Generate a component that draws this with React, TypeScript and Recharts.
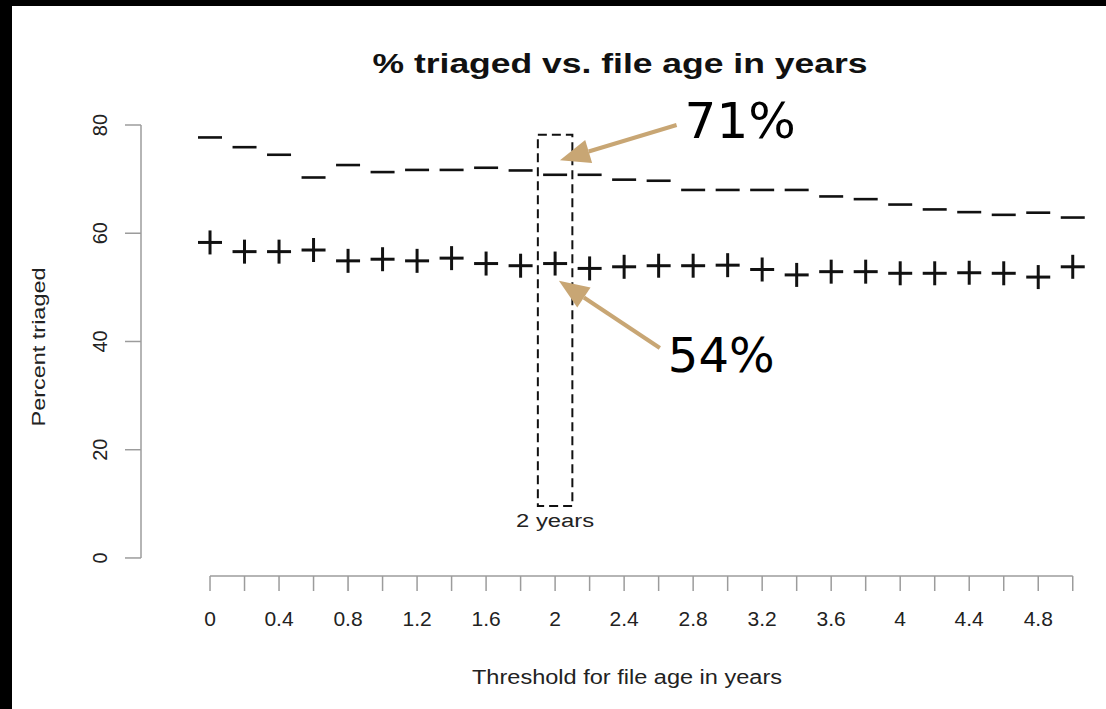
import React from 'react';
import { ComposedChart, Scatter, XAxis, YAxis, ReferenceArea, ReferenceLine } from 'recharts';

// threshold (years) on the x axis, one mark per threshold
const THRESHOLDS = [0, 0.2, 0.4, 0.6, 0.8, 1, 1.2, 1.4, 1.6, 1.8, 2, 2.2, 2.4, 2.6, 2.8, 3, 3.2, 3.4, 3.6, 3.8, 4, 4.2, 4.4, 4.6, 4.8, 5];
// "-" marks
const DASH_VALUES = [77.7, 75.9, 74.5, 70.3, 72.6, 71.3, 71.7, 71.7, 72.1, 71.6, 70.8, 70.8, 69.9, 69.7, 68.0, 68.0, 68.0, 68.0, 66.8, 66.3, 65.3, 64.4, 63.9, 63.4, 63.8, 62.9];
// "+" marks
const PLUS_VALUES = [58.3, 56.6, 56.6, 56.9, 54.9, 55.2, 54.9, 55.4, 54.4, 54.0, 54.4, 53.5, 53.8, 54.0, 54.0, 54.1, 53.3, 52.3, 52.9, 52.9, 52.6, 52.6, 52.7, 52.6, 51.9, 53.8];

const X_TICK_LABELS = ['0', '', '0.4', '', '0.8', '', '1.2', '', '1.6', '', '2', '', '2.4', '', '2.8', '', '3.2', '', '3.6', '', '4', '', '4.4', '', '4.8', ''];
const Y_TICKS = [0, 20, 40, 60, 80];

const X_MIN = -0.4;
const X_MAX = 5.1;
const Y_MIN = -10 / 3;
const Y_MAX = 80;

const AXIS_GRAY = '#9c9c9c';
const INK = '#111';
const TAN = '#c8a674';
const FONT = '"Liberation Sans", Arial, Helvetica, sans-serif';

const dashData = THRESHOLDS.map((t, i) => ({ x: t, y: DASH_VALUES[i] }));
const plusData = THRESHOLDS.map((t, i) => ({ x: t, y: PLUS_VALUES[i] }));

const DashMark = (props: any) => {
  const { cx, cy } = props;
  return <line x1={cx - 12} x2={cx + 12} y1={cy} y2={cy} stroke={INK} strokeWidth={2.6} />;
};

const PlusMark = (props: any) => {
  const { cx, cy } = props;
  return (
    <g stroke={INK} strokeWidth={3}>
      <line x1={cx - 12} x2={cx + 12} y1={cy} y2={cy} />
      <line x1={cx} x2={cx} y1={cy - 12} y2={cy + 12} />
    </g>
  );
};

const XTick = (props: any) => {
  const { x, y, index } = props;
  const label = X_TICK_LABELS[index];
  if (!label) return null;
  return (
    <text x={x} y={y + 33} textAnchor="middle" fontSize={21} fill="#222" fontFamily={FONT}>
      {label}
    </text>
  );
};

const YTick = (props: any) => {
  const { x, y, payload } = props;
  const bx = x - 16;
  return (
    <text x={bx} y={y} transform={`rotate(-90, ${bx}, ${y})`} textAnchor="middle" fontSize={20} fill="#222" fontFamily={FONT}>
      {payload.value}
    </text>
  );
};

// arrow from segment[0] (tail, with the callout text) to segment[1] (head)
const makeArrow = (text: string, dx: number, dy: number, fontSize: number) => (props: any) => {
  const { x1, y1, x2, y2 } = props;
  const ang = Math.atan2(y2 - y1, x2 - x1);
  const len = 30;
  const half = 12;
  const bx = x2 - len * Math.cos(ang);
  const by = y2 - len * Math.sin(ang);
  const px = -Math.sin(ang) * half;
  const py = Math.cos(ang) * half;
  return (
    <g>
      <line x1={x1} y1={y1} x2={bx} y2={by} stroke={TAN} strokeWidth={4} />
      <polygon points={`${x2},${y2} ${bx + px},${by + py} ${bx - px},${by - py}`} fill={TAN} />
      <text x={x1 + dx} y={y1 + dy} fontSize={fontSize} fill="#000" fontFamily='"DejaVu Sans", sans-serif'>
        {text}
      </text>
    </g>
  );
};

const yearsLabel = (props: any) => {
  const { x, y, width, height } = props.viewBox;
  return (
    <text x={x + width / 2} y={y + height + 21} textAnchor="middle" fontSize={18} fill="#222" fontFamily={FONT} textLength={78} lengthAdjust="spacingAndGlyphs">
      2 years
    </text>
  );
};

export default function App() {
  return (
    <div style={{ position: 'fixed', left: 0, top: 0, width: 1106, height: 709, background: '#000' }}>
      <div style={{ position: 'absolute', left: 12, top: 6, right: 0, bottom: 0, background: '#fff' }} />
      <div style={{ position: 'absolute', left: 0, top: 0 }}>
        <ComposedChart width={1106} height={709} margin={{ top: 125, right: 16, bottom: 93, left: 81 }}>
          <XAxis
            type="number"
            dataKey="x"
            domain={[X_MIN, X_MAX]}
            ticks={THRESHOLDS}
            interval={0}
            allowDataOverflow
            height={40}
            axisLine={false}
            tickSize={15}
            tickLine={{ stroke: AXIS_GRAY, strokeWidth: 1.5 }}
            tick={<XTick />}
          />
          <YAxis
            type="number"
            dataKey="y"
            domain={[Y_MIN, Y_MAX]}
            ticks={Y_TICKS}
            interval={0}
            allowDataOverflow
            width={60}
            axisLine={false}
            tickSize={16}
            tickLine={{ stroke: AXIS_GRAY, strokeWidth: 1.5 }}
            tick={<YTick />}
          />
          {/* R-style axis lines that only span the tick range */}
          <ReferenceLine segment={[{ x: 0, y: Y_MIN }, { x: 5, y: Y_MIN }]} stroke={AXIS_GRAY} strokeWidth={1.5} ifOverflow="visible" />
          <ReferenceLine segment={[{ x: X_MIN, y: 0 }, { x: X_MIN, y: 80 }]} stroke={AXIS_GRAY} strokeWidth={1.5} ifOverflow="visible" />
          <ReferenceArea
            x1={1.9}
            x2={2.1}
            y1={9.6}
            y2={78.2}
            fill="none"
            fillOpacity={0}
            stroke={INK}
            strokeWidth={2}
            strokeDasharray="9 5"
            ifOverflow="visible"
            label={yearsLabel}
          />
          <Scatter data={dashData} shape={DashMark} isAnimationActive={false} />
          <Scatter data={plusData} shape={PlusMark} isAnimationActive={false} />
          <ReferenceLine
            segment={[{ x: 2.704, y: 80.0 }, { x: 2.028, y: 73.5 }]}
            ifOverflow="visible"
            shape={makeArrow('71%', 8, 13, 50)}
          />
          <ReferenceLine
            segment={[{ x: 2.607, y: 38.8 }, { x: 2.022, y: 51.2 }]}
            ifOverflow="visible"
            shape={makeArrow('54%', 8, 24, 48)}
          />
        </ComposedChart>
      </div>
      <svg width={1106} height={709} style={{ position: 'absolute', left: 0, top: 0, pointerEvents: 'none' }}>
        <text x={620} y={73} textAnchor="middle" fontSize={27} fontWeight="bold" fill={INK} fontFamily={FONT} textLength={495} lengthAdjust="spacingAndGlyphs">
          % triaged vs. file age in years
        </text>
        <text x={627} y={684} textAnchor="middle" fontSize={20} fill="#222" fontFamily={FONT} textLength={310} lengthAdjust="spacingAndGlyphs">
          Threshold for file age in years
        </text>
        <text x={45} y={347} transform="rotate(-90, 45, 347)" textAnchor="middle" fontSize={19} fill="#222" fontFamily={FONT} textLength={159} lengthAdjust="spacingAndGlyphs">
          Percent triaged
        </text>
      </svg>
    </div>
  );
}
